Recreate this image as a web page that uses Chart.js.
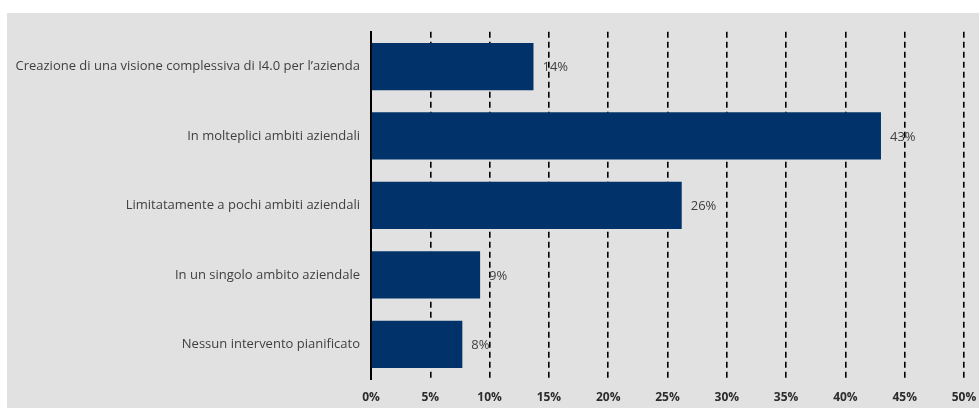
<!DOCTYPE html>
<html>
<head>
<meta charset="utf-8">
<script src="https://cdn.jsdelivr.net/npm/chart.js@4"></script>
<style>
  body { margin: 0; background: #ffffff; }
  #panel { position: absolute; left: 7px; top: 13px; width: 972px; height: 395px; background: #e1e1e1; }
</style>
</head>
<body>
<div id="panel"><canvas id="chart" width="972" height="395"></canvas></div>
<script>
// data (percent)
const categories = [
    'Creazione di una visione complessiva di I4.0 per l\u2019azienda',
    'In molteplici ambiti aziendali',
    'Limitatamente a pochi ambiti aziendali',
    'In un singolo ambito aziendale',
    'Nessun intervento pianificato'
];
const values = [13.7, 43.0, 26.2, 9.2, 7.7];
const valueLabels = ['14%', '43%', '26%', '9%', '8%'];
const xTicks = [0, 5, 10, 15, 20, 25, 30, 35, 40, 45, 50];

// draws the "14%" style labels right of each bar
const barLabels = {
    id: 'barLabels',
    afterDatasetsDraw(chart) {
        const ctx = chart.ctx;
        const meta = chart.getDatasetMeta(0);
        ctx.save();
        ctx.font = '13px "Open Sans"';
        ctx.fillStyle = '#404040';
        ctx.textAlign = 'left';
        ctx.textBaseline = 'middle';
        meta.data.forEach((bar, i) => {
            ctx.fillText(valueLabels[i], bar.x + 9, bar.y + 1);
        });
        ctx.restore();
    }
};

new Chart(document.getElementById('chart').getContext('2d'), {
    type: 'bar',
    data: {
        labels: categories,
        datasets: [{
            data: values,
            backgroundColor: '#01336a',
            borderWidth: 0,
            barPercentage: 0.68,
            categoryPercentage: 1.0
        }]
    },
    options: {
        indexAxis: 'y',
        responsive: false,
        animation: false,
        layout: { padding: { left: 0, right: 15, top: 16, bottom: 0 } },
        plugins: {
            legend: { display: false },
            tooltip: { enabled: false }
        },
        scales: {
            x: {
                min: 0,
                max: 50,
                afterBuildTicks: (scale) => {
                    scale.ticks = xTicks.map(v => ({ value: v }));
                },
                ticks: {
                    callback: (v) => v + '%',
                    color: '#2b2b2b',
                    font: { family: '"Open Sans"', size: 12, weight: 'bold' },
                    padding: 11,
                    maxRotation: 0
                },
                grid: {
                    color: '#000000',
                    lineWidth: 1.6,
                    drawTicks: false
                },
                border: { display: false, dash: [6, 4] },
                afterFit: (scale) => {
                    scale.height = 29;
                    scale.paddingRight = 0;
                    scale.paddingLeft = 0;
                }
            },
            y: {
                ticks: {
                    color: '#404040',
                    font: { family: '"Open Sans"', size: 13 },
                    padding: 11
                },
                grid: { display: false, drawTicks: false },
                border: { display: true, color: '#000000', width: 2 },
                afterFit: (scale) => { scale.width = 364; }
            }
        }
    },
    plugins: [barLabels]
});
</script>
</body>
</html>
